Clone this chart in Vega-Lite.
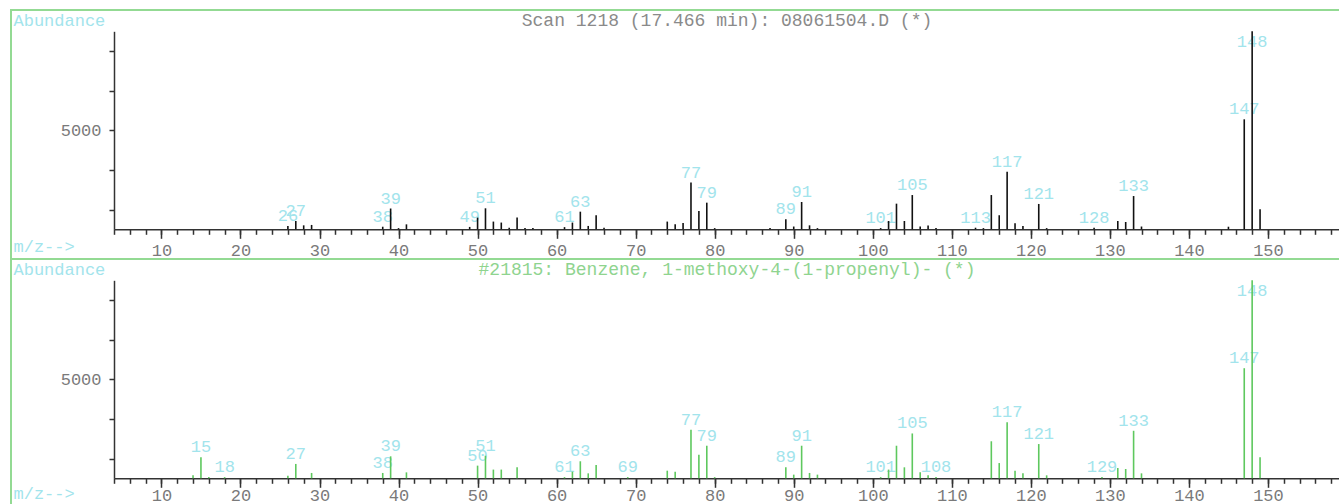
{
  "$schema": "https://vega.github.io/schema/vega-lite/v6.json",
  "background": "white",
  "padding": {"left": 10, "top": 9, "right": 0, "bottom": 0},
  "bounds": "flush",
  "config": {
    "view": {"stroke": "#93da93", "strokeWidth": 2},
    "concat": {"spacing": 0},
    "axis": {"grid": false},
    "title": {"font": "Liberation Mono", "fontSize": 18, "fontWeight": "normal", "anchor": "middle", "frame": "group"}
  },
  "datasets": {
    "scan": [
      {"mz": 26, "ab": 170, "lab": 1}, {"mz": 27, "ab": 420, "lab": 1}, {"mz": 28, "ab": 200, "lab": 0}, {"mz": 29, "ab": 220, "lab": 0},
      {"mz": 38, "ab": 130, "lab": 1}, {"mz": 39, "ab": 1050, "lab": 1}, {"mz": 40, "ab": 60, "lab": 0}, {"mz": 41, "ab": 250, "lab": 0},
      {"mz": 49, "ab": 120, "lab": 1}, {"mz": 50, "ab": 590, "lab": 0}, {"mz": 51, "ab": 1060, "lab": 1}, {"mz": 52, "ab": 390, "lab": 0},
      {"mz": 53, "ab": 340, "lab": 0}, {"mz": 54, "ab": 80, "lab": 0}, {"mz": 55, "ab": 590, "lab": 0}, {"mz": 56, "ab": 60, "lab": 0},
      {"mz": 57, "ab": 60, "lab": 0}, {"mz": 61, "ab": 110, "lab": 1}, {"mz": 62, "ab": 340, "lab": 0}, {"mz": 63, "ab": 890, "lab": 1},
      {"mz": 64, "ab": 170, "lab": 0}, {"mz": 65, "ab": 710, "lab": 0}, {"mz": 66, "ab": 80, "lab": 0}, {"mz": 74, "ab": 390, "lab": 0},
      {"mz": 75, "ab": 250, "lab": 0}, {"mz": 76, "ab": 320, "lab": 0}, {"mz": 77, "ab": 2360, "lab": 1}, {"mz": 78, "ab": 925, "lab": 0},
      {"mz": 79, "ab": 1345, "lab": 1}, {"mz": 80, "ab": 60, "lab": 0}, {"mz": 87, "ab": 60, "lab": 0}, {"mz": 89, "ab": 505, "lab": 1},
      {"mz": 90, "ab": 140, "lab": 0}, {"mz": 91, "ab": 1380, "lab": 1}, {"mz": 92, "ab": 200, "lab": 0}, {"mz": 93, "ab": 60, "lab": 0},
      {"mz": 101, "ab": 60, "lab": 1}, {"mz": 102, "ab": 420, "lab": 0}, {"mz": 103, "ab": 1295, "lab": 0}, {"mz": 104, "ab": 420, "lab": 0},
      {"mz": 105, "ab": 1730, "lab": 1}, {"mz": 106, "ab": 140, "lab": 0}, {"mz": 107, "ab": 190, "lab": 0}, {"mz": 108, "ab": 60, "lab": 0},
      {"mz": 113, "ab": 80, "lab": 1}, {"mz": 114, "ab": 60, "lab": 0}, {"mz": 115, "ab": 1730, "lab": 0}, {"mz": 116, "ab": 710, "lab": 0},
      {"mz": 117, "ab": 2910, "lab": 1}, {"mz": 118, "ab": 300, "lab": 0}, {"mz": 119, "ab": 170, "lab": 0}, {"mz": 121, "ab": 1280, "lab": 1},
      {"mz": 122, "ab": 60, "lab": 0}, {"mz": 128, "ab": 80, "lab": 1}, {"mz": 131, "ab": 420, "lab": 0}, {"mz": 132, "ab": 370, "lab": 0},
      {"mz": 133, "ab": 1680, "lab": 1}, {"mz": 134, "ab": 140, "lab": 0}, {"mz": 145, "ab": 130, "lab": 0}, {"mz": 147, "ab": 5555, "lab": 1},
      {"mz": 148, "ab": 10000, "lab": 1}, {"mz": 149, "ab": 1010, "lab": 0}
    ],
    "library": [
      {"mz": 14, "ab": 150, "lab": 0}, {"mz": 15, "ab": 1060, "lab": 1}, {"mz": 16, "ab": 60, "lab": 0}, {"mz": 18, "ab": 60, "lab": 1},
      {"mz": 26, "ab": 130, "lab": 0}, {"mz": 27, "ab": 725, "lab": 1}, {"mz": 29, "ab": 270, "lab": 0}, {"mz": 38, "ab": 270, "lab": 1},
      {"mz": 39, "ab": 1110, "lab": 1}, {"mz": 41, "ab": 300, "lab": 0}, {"mz": 50, "ab": 640, "lab": 1}, {"mz": 51, "ab": 1140, "lab": 1},
      {"mz": 52, "ab": 440, "lab": 0}, {"mz": 53, "ab": 440, "lab": 0}, {"mz": 55, "ab": 555, "lab": 0}, {"mz": 61, "ab": 60, "lab": 1},
      {"mz": 62, "ab": 335, "lab": 0}, {"mz": 63, "ab": 860, "lab": 1}, {"mz": 64, "ab": 250, "lab": 0}, {"mz": 65, "ab": 670, "lab": 0},
      {"mz": 69, "ab": 60, "lab": 1}, {"mz": 74, "ab": 385, "lab": 0}, {"mz": 75, "ab": 335, "lab": 0}, {"mz": 77, "ab": 2450, "lab": 1},
      {"mz": 78, "ab": 1190, "lab": 0}, {"mz": 79, "ab": 1645, "lab": 1}, {"mz": 80, "ab": 60, "lab": 0}, {"mz": 89, "ab": 555, "lab": 1},
      {"mz": 90, "ab": 185, "lab": 0}, {"mz": 91, "ab": 1645, "lab": 1}, {"mz": 92, "ab": 270, "lab": 0}, {"mz": 93, "ab": 185, "lab": 0},
      {"mz": 101, "ab": 60, "lab": 1}, {"mz": 102, "ab": 440, "lab": 0}, {"mz": 103, "ab": 1645, "lab": 0}, {"mz": 104, "ab": 555, "lab": 0},
      {"mz": 105, "ab": 2265, "lab": 1}, {"mz": 106, "ab": 300, "lab": 0}, {"mz": 107, "ab": 150, "lab": 0}, {"mz": 108, "ab": 60, "lab": 1},
      {"mz": 115, "ab": 1870, "lab": 0}, {"mz": 116, "ab": 770, "lab": 0}, {"mz": 117, "ab": 2830, "lab": 1}, {"mz": 118, "ab": 385, "lab": 0},
      {"mz": 119, "ab": 250, "lab": 0}, {"mz": 121, "ab": 1730, "lab": 1}, {"mz": 122, "ab": 150, "lab": 0}, {"mz": 129, "ab": 60, "lab": 1},
      {"mz": 131, "ab": 520, "lab": 0}, {"mz": 132, "ab": 470, "lab": 0}, {"mz": 133, "ab": 2400, "lab": 1}, {"mz": 134, "ab": 250, "lab": 0},
      {"mz": 147, "ab": 5560, "lab": 1}, {"mz": 148, "ab": 10000, "lab": 1}, {"mz": 149, "ab": 1060, "lab": 0}
    ]
  },
  "vconcat": [
    {
      "width": 1336,
      "height": 249,
      "title": {"text": "Scan 1218 (17.466 min): 08061504.D (*)", "color": "#8a8a8a", "offset": -20, "dx": 48},
      "data": {"name": "scan"},
      "layer": [
        {
          "transform": [{"filter": "datum.lab == 1"}, {"calculate": "min(datum.ab, 8950)", "as": "ly"}],
          "mark": {"type": "text", "dy": -10, "baseline": "middle", "align": "center", "color": "#a2e4ec", "font": "Liberation Mono", "fontSize": 17},
          "encoding": {
            "x": {"field": "mz", "type": "quantitative", "scale": {"domain": [4, 160], "range": [103, 1336], "nice": false, "zero": false},
                  "axis": {"orient": "bottom", "offset": -29.7, "values": [4,6,8,10,12,14,16,18,20,22,24,26,28,30,32,34,36,38,40,42,44,46,48,50,52,54,56,58,60,62,64,66,68,70,72,74,76,78,80,82,84,86,88,90,92,94,96,98,100,102,104,106,108,110,112,114,116,118,120,122,124,126,128,130,132,134,136,138,140,142,144,146,148,150,152,154,156,158,160],
                           "tickSize": 5, "tickColor": "#333", "tickWidth": 1.5, "labels": false, "domain": false, "title": null}},
            "y": {"field": "ly", "type": "quantitative", "scale": {"domain": [0, 10000], "range": [219.3, 21.3], "nice": false}},
            "text": {"field": "mz", "type": "quantitative", "format": "d"}
          }
        },
        {
          "mark": {"type": "rule", "color": "#111", "strokeWidth": 1.6},
          "encoding": {
            "x": {"field": "mz", "type": "quantitative", "scale": {"domain": [4, 160], "range": [103, 1336], "nice": false, "zero": false},
                  "axis": {"orient": "bottom", "offset": -29.7, "values": [10,20,30,40,50,60,70,80,90,100,110,120,130,140,150],
                           "tickSize": 9, "tickColor": "#333", "tickWidth": 1.5, "domainColor": "#333", "domainWidth": 1.5,
                           "labelPadding": 4, "labelFlush": false, "labelFont": "Liberation Mono", "labelFontSize": 17, "labelColor": "#7a7a7a",
                           "title": "m/z-->", "titleColor": "#a2e4ec", "titleFont": "Liberation Mono", "titleFontSize": 17, "titleFontWeight": "normal",
                           "titleX": 2, "titleY": 17, "titleAlign": "left", "titleBaseline": "middle", "titleAngle": 0}},
            "y": {"field": "ab", "type": "quantitative", "scale": {"domain": [0, 10000], "range": [219.3, 21.3], "nice": false},
                  "axis": {"orient": "left", "offset": -103, "values": [1000,2000,3000,4000,5000,6000,7000,8000,9000],
                           "tickSize": 5, "tickColor": "#333", "tickWidth": 1.5, "domainColor": "#333", "domainWidth": 1.5,
                           "labelExpr": "datum.value == 5000 ? '5000' : ''", "labelPadding": 8, "labelFont": "Liberation Mono", "labelFontSize": 17, "labelColor": "#7a7a7a",
                           "title": "Abundance", "titleColor": "#a2e4ec", "titleFont": "Liberation Mono", "titleFontSize": 17, "titleFontWeight": "normal",
                           "titleAngle": 0, "titleX": -101, "titleY": 10.5, "titleAlign": "left", "titleBaseline": "middle"}},
            "y2": {"datum": 0}
          }
        }
      ],
      "resolve": {"axis": {"x": "independent"}}
    },
    {
      "width": 1336,
      "height": 249,
      "title": {"text": "#21815: Benzene, 1-methoxy-4-(1-propenyl)- (*)", "color": "#8fd48f", "offset": -20, "dx": 48},
      "data": {"name": "library"},
      "layer": [
        {
          "transform": [{"filter": "datum.lab == 1"}, {"calculate": "min(datum.ab, 8950)", "as": "ly"}],
          "mark": {"type": "text", "dy": -10, "baseline": "middle", "align": "center", "color": "#a2e4ec", "font": "Liberation Mono", "fontSize": 17},
          "encoding": {
            "x": {"field": "mz", "type": "quantitative", "scale": {"domain": [4, 160], "range": [103, 1336], "nice": false, "zero": false},
                  "axis": {"orient": "bottom", "offset": -29.7, "values": [4,6,8,10,12,14,16,18,20,22,24,26,28,30,32,34,36,38,40,42,44,46,48,50,52,54,56,58,60,62,64,66,68,70,72,74,76,78,80,82,84,86,88,90,92,94,96,98,100,102,104,106,108,110,112,114,116,118,120,122,124,126,128,130,132,134,136,138,140,142,144,146,148,150,152,154,156,158,160],
                           "tickSize": 5, "tickColor": "#333", "tickWidth": 1.5, "labels": false, "domain": false, "title": null}},
            "y": {"field": "ly", "type": "quantitative", "scale": {"domain": [0, 10000], "range": [219.3, 21.3], "nice": false}},
            "text": {"field": "mz", "type": "quantitative", "format": "d"}
          }
        },
        {
          "mark": {"type": "rule", "color": "#5ec85e", "strokeWidth": 1.6},
          "encoding": {
            "x": {"field": "mz", "type": "quantitative", "scale": {"domain": [4, 160], "range": [103, 1336], "nice": false, "zero": false},
                  "axis": {"orient": "bottom", "offset": -29.7, "values": [10,20,30,40,50,60,70,80,90,100,110,120,130,140,150],
                           "tickSize": 9, "tickColor": "#333", "tickWidth": 1.5, "domainColor": "#333", "domainWidth": 1.5,
                           "labelPadding": 0, "labelFlush": false, "labelFont": "Liberation Mono", "labelFontSize": 17, "labelColor": "#7a7a7a",
                           "title": "m/z-->", "titleColor": "#a2e4ec", "titleFont": "Liberation Mono", "titleFontSize": 17, "titleFontWeight": "normal",
                           "titleX": 2, "titleY": 15, "titleAlign": "left", "titleBaseline": "middle", "titleAngle": 0}},
            "y": {"field": "ab", "type": "quantitative", "scale": {"domain": [0, 10000], "range": [219.3, 21.3], "nice": false},
                  "axis": {"orient": "left", "offset": -103, "values": [1000,2000,3000,4000,5000,6000,7000,8000,9000],
                           "tickSize": 5, "tickColor": "#333", "tickWidth": 1.5, "domainColor": "#333", "domainWidth": 1.5,
                           "labelExpr": "datum.value == 5000 ? '5000' : ''", "labelPadding": 8, "labelFont": "Liberation Mono", "labelFontSize": 17, "labelColor": "#7a7a7a",
                           "title": "Abundance", "titleColor": "#a2e4ec", "titleFont": "Liberation Mono", "titleFontSize": 17, "titleFontWeight": "normal",
                           "titleAngle": 0, "titleX": -101, "titleY": 10.5, "titleAlign": "left", "titleBaseline": "middle"}},
            "y2": {"datum": 0}
          }
        }
      ],
      "resolve": {"axis": {"x": "independent"}}
    }
  ]
}
